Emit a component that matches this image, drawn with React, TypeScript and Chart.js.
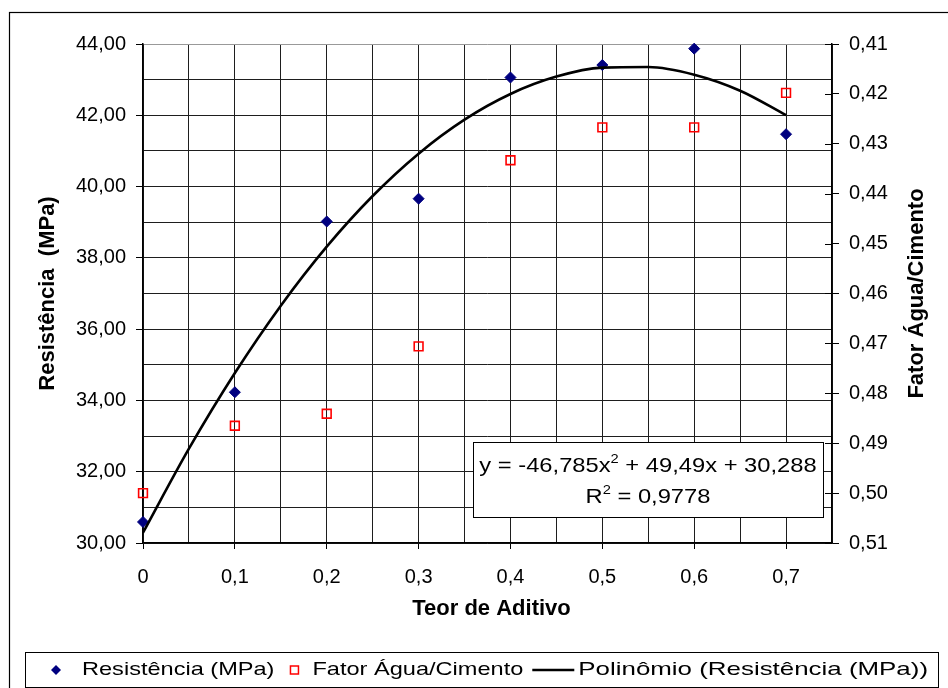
import React, { useEffect, useRef } from 'react';
import { Chart, registerables } from 'chart.js';

Chart.register(...registerables);

const FONT = '"Liberation Sans", Arial, Helvetica, sans-serif';

// ---- data ----
const teorDeAditivo = [0, 0.1, 0.2, 0.3, 0.4, 0.5, 0.6, 0.7];
const resistenciaMPa = [30.59, 34.23, 39.02, 39.66, 43.06, 43.41, 43.87, 41.47];
const fatorAguaCimento = [0.5, 0.4865, 0.4841, 0.4706, 0.4333, 0.4267, 0.4267, 0.4198];
const polinomioX = [0, 0.05, 0.1, 0.15, 0.2, 0.25, 0.3, 0.35, 0.4, 0.45, 0.5, 0.55, 0.6, 0.65, 0.7];
const polinomioY = [30.288, 32.646, 34.769, 36.659, 38.315, 39.736, 40.924, 41.878, 42.598, 43.085, 43.337, 43.355, 43.139, 42.69, 42.006];
const xTickLabels = ['0', '0,1', '0,2', '0,3', '0,4', '0,5', '0,6', '0,7'];
const seriesNames = ['Resistência (MPa)', 'Fator Água/Cimento', 'Polinômio (Resistência (MPa))'];
const xTitle = 'Teor de Aditivo';
const yTitle = 'Resistência  (MPa)';
const y1Title = 'Fator Água/Cimento';
const eqLine1 = [
  { t: 'y = -46,785x', sup: false },
  { t: '2', sup: true },
  { t: ' + 49,49x + 30,288', sup: false },
];
const eqLine2 = [
  { t: 'R', sup: false },
  { t: '2', sup: true },
  { t: ' = 0,9778', sup: false },
];

const NAVY = '#000080';
const RED = '#ff0000';

function drawText(ctx: CanvasRenderingContext2D, txt: string, x: number, y: number, font: string, align: CanvasTextAlign, sx = 1, rot = 0) {
  ctx.save();
  ctx.translate(x, y);
  if (rot) ctx.rotate(rot);
  ctx.scale(sx, 1);
  ctx.font = font;
  ctx.fillStyle = '#000';
  ctx.textAlign = align;
  ctx.textBaseline = 'middle';
  ctx.fillText(txt, 0, 0);
  ctx.restore();
}

function drawRich(ctx: CanvasRenderingContext2D, parts: { t: string; sup: boolean }[], cx: number, baseline: number, size: number, supSize: number, sx: number) {
  const font = `${size}px ${FONT}`;
  const supFont = `${supSize}px ${FONT}`;
  let total = 0;
  const widths = parts.map((p) => {
    ctx.font = p.sup ? supFont : font;
    const w = ctx.measureText(p.t).width * sx;
    total += w;
    return w;
  });
  let x = cx - total / 2;
  parts.forEach((p, i) => {
    ctx.save();
    ctx.translate(x, p.sup ? baseline - size * 0.42 : baseline);
    ctx.scale(sx, 1);
    ctx.font = p.sup ? supFont : font;
    ctx.fillStyle = '#000';
    ctx.textAlign = 'left';
    ctx.textBaseline = 'alphabetic';
    ctx.fillText(p.t, 0, 0);
    ctx.restore();
    x += widths[i];
  });
}

const decoPlugin = {
  id: 'deco',
  beforeDraw(chart: any) {
    const c = chart.ctx;
    c.save();
    c.fillStyle = '#fff';
    c.fillRect(0, 0, chart.width, chart.height);
    c.restore();
  },
  afterDraw(chart: any) {
    const c: CanvasRenderingContext2D = chart.ctx;
    const area = chart.chartArea;
    c.save();
    // outer chart border (right/bottom edges lie outside the picture)
    c.strokeStyle = '#000';
    c.lineWidth = 1.2;
    c.strokeRect(9.5, 12.5, 1000, 1000);

    // inward tick marks of the right axis
    const s = chart.scales.y1;
    c.strokeStyle = '#000';
    c.lineWidth = 1;
    s.ticks.forEach((t: any) => {
      const y = Math.round(s.getPixelForValue(t.value)) + 0.5;
      c.beginPath();
      c.moveTo(s.left - 7, y);
      c.lineTo(s.left, y);
      c.stroke();
    });

    // axis titles
    const bold = `bold 22px ${FONT}`;
    drawText(c, yTitle, 48, (area.top + area.bottom) / 2, bold, 'center', 1, -Math.PI / 2);
    drawText(c, y1Title, 917, (area.top + area.bottom) / 2, bold, 'center', 1, -Math.PI / 2);
    drawText(c, xTitle, (area.left + area.right) / 2 + 4, 609, bold, 'center');

    // equation box
    c.fillStyle = '#fff';
    c.fillRect(473.5, 442.5, 350, 75);
    c.strokeStyle = '#000';
    c.lineWidth = 1;
    c.strokeRect(473.5, 442.5, 350, 75);
    drawRich(c, eqLine1, 648, 472, 21, 13, 1.13);
    drawRich(c, eqLine2, 648, 503, 21, 13, 1.13);

    // legend box
    c.fillStyle = '#fff';
    c.fillRect(25.5, 652.5, 913, 35);
    c.strokeStyle = '#000';
    c.lineWidth = 1;
    c.strokeRect(25.5, 652.5, 913, 35);
    const ly = 670;
    const lfont = `19px ${FONT}`;
    const lsx = 1.24;
    c.font = lfont;
    // item 1: diamond
    c.fillStyle = NAVY;
    c.beginPath();
    c.moveTo(56, ly - 5);
    c.lineTo(61, ly);
    c.lineTo(56, ly + 5);
    c.lineTo(51, ly);
    c.closePath();
    c.fill();
    let x = 82;
    drawText(c, seriesNames[0], x, ly, lfont, 'left', lsx);
    c.font = lfont;
    x += c.measureText(seriesNames[0]).width * lsx;
    // item 2: hollow red square
    const sq = x + 20;
    c.strokeStyle = RED;
    c.lineWidth = 1.5;
    c.strokeRect(sq - 4, ly - 4, 8, 8);
    x = sq + 18;
    drawText(c, seriesNames[1], x, ly, lfont, 'left', lsx);
    c.font = lfont;
    x += c.measureText(seriesNames[1]).width * lsx;
    // item 3: line
    c.strokeStyle = '#000';
    c.lineWidth = 2.5;
    c.beginPath();
    c.moveTo(x + 9, ly);
    c.lineTo(x + 51, ly);
    c.stroke();
    x += 55;
    c.font = lfont;
    const w3 = c.measureText(seriesNames[2]).width;
    const sx3 = (928 - x) / w3;
    drawText(c, seriesNames[2], x, ly, lfont, 'left', sx3);
    c.restore();
  },
};

function isTenth(v: number) {
  const i = Math.round(v * 10);
  return Math.abs(v * 10 - i) < 1e-6 && i >= 0 && i < xTickLabels.length;
}

function isEven(v: number) {
  return Math.abs(v / 2 - Math.round(v / 2)) < 1e-6;
}

export default function App() {
  const ref = useRef<HTMLCanvasElement | null>(null);

  useEffect(() => {
    if (!ref.current) return;
    const tickFont = { family: FONT, size: 20 };
    const chart = new Chart(ref.current, {
      type: 'scatter',
      data: {
        datasets: [
          {
            label: seriesNames[2],
            data: polinomioX.map((x, i) => ({ x, y: polinomioY[i] })),
            yAxisID: 'y',
            showLine: true,
            borderColor: '#000',
            backgroundColor: '#000',
            borderWidth: 2.6,
            pointRadius: 0,
            tension: 0.4,
            cubicInterpolationMode: 'monotone',
            order: 1,
          } as any,
          {
            label: seriesNames[0],
            data: teorDeAditivo.map((x, i) => ({ x, y: resistenciaMPa[i] })),
            yAxisID: 'y',
            pointStyle: 'rectRot',
            pointRadius: 5.5,
            backgroundColor: NAVY,
            borderColor: NAVY,
            borderWidth: 1,
            clip: false,
            order: 2,
          } as any,
          {
            label: seriesNames[1],
            data: teorDeAditivo.map((x, i) => ({ x, y: fatorAguaCimento[i] })),
            yAxisID: 'y1',
            pointStyle: 'rect',
            pointRadius: 6.2,
            backgroundColor: 'rgba(255,255,255,0)',
            borderColor: RED,
            borderWidth: 1.6,
            clip: false,
            order: 3,
          } as any,
        ],
      },
      options: {
        responsive: false,
        animation: false,
        events: [],
        layout: { padding: { top: 44, left: 0, right: 0, bottom: 0 } },
        plugins: {
          legend: { display: false },
          tooltip: { enabled: false },
          title: { display: false },
        },
        scales: {
          x: {
            type: 'linear',
            position: 'bottom',
            min: 0,
            max: 0.75,
            ticks: {
              stepSize: 0.05,
              autoSkip: false,
              maxRotation: 0,
              minRotation: 0,
              padding: 16,
              color: '#000',
              font: tickFont,
              callback: (v: any) => (isTenth(Number(v)) ? xTickLabels[Math.round(Number(v) * 10)] : ''),
            },
            grid: {
              color: '#1e1e1e',
              lineWidth: 1,
              tickLength: 6,
              tickColor: (c: any) => (c.tick && isTenth(c.tick.value) ? '#000' : 'rgba(0,0,0,0)'),
            },
            border: { color: '#000', width: 1.5 },
            afterFit: (s: any) => {
              s.height = 145;
            },
          },
          y: {
            type: 'linear',
            position: 'left',
            min: 30,
            max: 44,
            ticks: {
              stepSize: 1,
              autoSkip: false,
              padding: 10,
              color: '#000',
              font: tickFont,
              callback: (v: any) => (isEven(Number(v)) ? Number(v).toFixed(2).replace('.', ',') : ''),
            },
            grid: {
              color: (c: any) => (c.tick && Math.abs(c.tick.value - 44) < 1e-6 ? '#999' : '#1e1e1e'),
              lineWidth: 1,
              tickLength: 7,
              tickColor: (c: any) => (c.tick && isEven(c.tick.value) ? '#000' : 'rgba(0,0,0,0)'),
            },
            border: { color: '#000', width: 1.5 },
            afterFit: (s: any) => {
              s.width = 143;
            },
          },
          y1: {
            type: 'linear',
            position: 'right',
            min: 0.41,
            max: 0.51,
            reverse: true,
            ticks: {
              stepSize: 0.01,
              autoSkip: false,
              padding: 10,
              color: '#000',
              font: tickFont,
              callback: (v: any) => Number(v).toFixed(2).replace('.', ','),
            },
            grid: {
              drawOnChartArea: false,
              tickLength: 7,
              color: '#000',
            },
            border: { color: '#000', width: 1.5 },
            afterFit: (s: any) => {
              s.width = 116;
            },
          },
        },
      } as any,
      plugins: [decoPlugin],
    });
    return () => chart.destroy();
  }, []);

  return (
    <div style={{ position: 'absolute', left: 0, top: 0, width: 948, height: 688, background: '#fff' }}>
      <canvas ref={ref} width={948} height={688} style={{ display: 'block' }} />
    </div>
  );
}
